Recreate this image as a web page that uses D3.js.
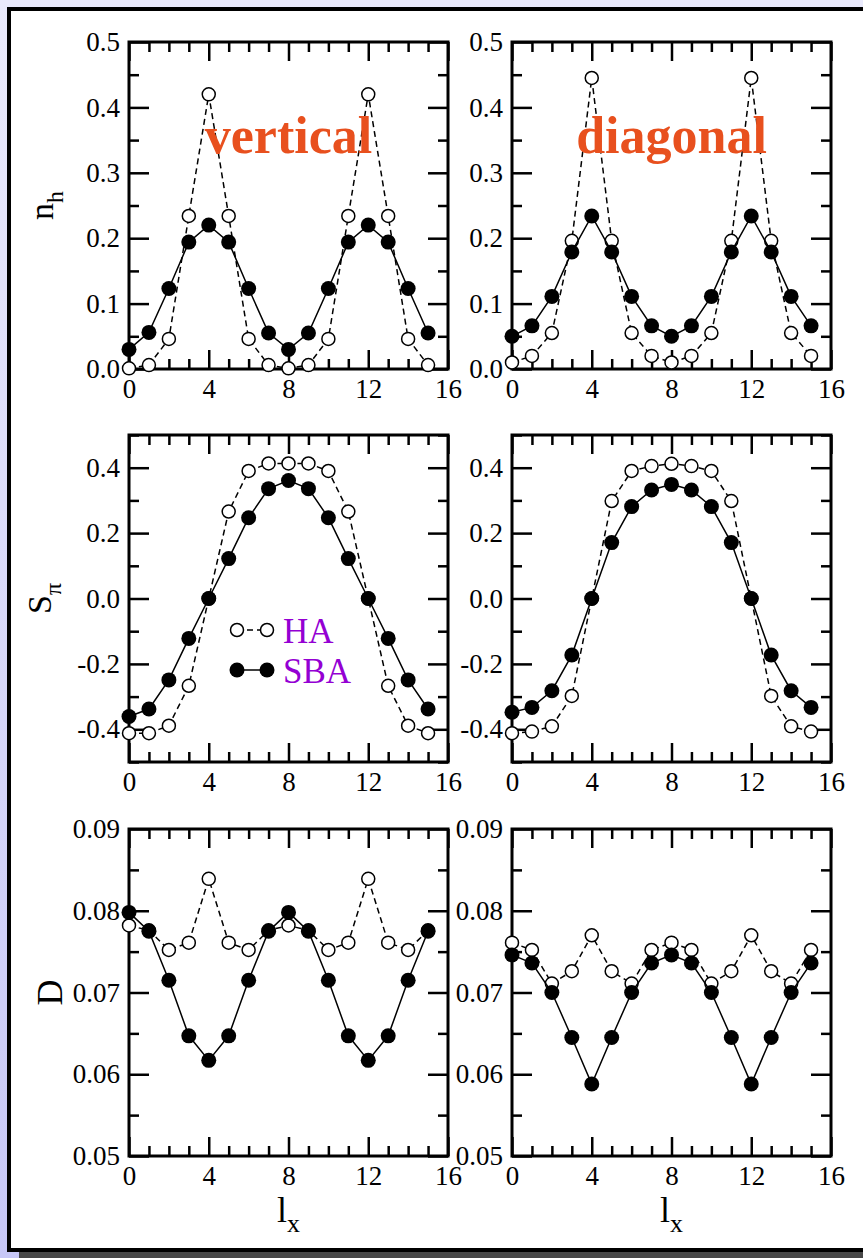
<!DOCTYPE html>
<html>
<head>
<meta charset="utf-8">
<script src="https://cdn.jsdelivr.net/npm/d3@7"></script>
<style>
  body { margin: 0; }
  svg text { font-family: "Liberation Serif", "Times New Roman", serif; }
  .axis path.domain { display: none; }
  .axis line { stroke: #000; stroke-width: 2.5; }
  .axis text { font-size: 27px; fill: #000; }
</style>
</head>
<body>
<svg id="fig" width="863" height="1258" font-family="Liberation Serif, Times New Roman, serif"></svg>
<script>
var serif = "Liberation Serif, Times New Roman, serif";

// lattice position along x
var lx = [0, 1, 2, 3, 4, 5, 6, 7, 8, 9, 10, 11, 12, 13, 14, 15];

// hole density n_h
var nhVertHA  = [0.001, 0.006, 0.046, 0.234, 0.420, 0.234, 0.046, 0.006, 0.001, 0.006, 0.046, 0.234, 0.420, 0.234, 0.046, 0.006];
var nhVertSBA = [0.030, 0.056, 0.123, 0.194, 0.220, 0.194, 0.123, 0.055, 0.030, 0.055, 0.123, 0.194, 0.220, 0.194, 0.123, 0.055];
var nhDiagHA  = [0.010, 0.020, 0.055, 0.196, 0.445, 0.196, 0.055, 0.020, 0.010, 0.020, 0.055, 0.196, 0.445, 0.196, 0.055, 0.020];
var nhDiagSBA = [0.050, 0.066, 0.111, 0.179, 0.234, 0.179, 0.111, 0.066, 0.050, 0.066, 0.111, 0.179, 0.234, 0.179, 0.111, 0.066];

// staggered magnetization S_pi
var sVertHA  = [-0.412, -0.412, -0.389, -0.267, 0.0, 0.266, 0.390, 0.413, 0.413, 0.413, 0.390, 0.266, 0.0, -0.267, -0.389, -0.412];
var sVertSBA = [-0.361, -0.338, -0.249, -0.122, 0.0, 0.122, 0.247, 0.336, 0.361, 0.336, 0.247, 0.122, 0.0, -0.122, -0.249, -0.338];
var sDiagHA  = [-0.412, -0.407, -0.391, -0.298, 0.0, 0.298, 0.390, 0.405, 0.412, 0.405, 0.390, 0.298, 0.0, -0.298, -0.391, -0.407];
var sDiagSBA = [-0.348, -0.333, -0.282, -0.173, 0.0, 0.171, 0.281, 0.332, 0.349, 0.332, 0.281, 0.171, 0.0, -0.173, -0.282, -0.333];

// double occupancy D
var dVertHA  = [0.0782, 0.0776, 0.0752, 0.0761, 0.0839, 0.0761, 0.0752, 0.0776, 0.0782, 0.0776, 0.0752, 0.0761, 0.0839, 0.0761, 0.0752, 0.0776];
var dVertSBA = [0.0798, 0.0775, 0.0715, 0.0647, 0.0617, 0.0647, 0.0715, 0.0775, 0.0798, 0.0775, 0.0715, 0.0647, 0.0617, 0.0647, 0.0715, 0.0775];
var dDiagHA  = [0.0761, 0.0752, 0.0711, 0.0726, 0.0770, 0.0726, 0.0711, 0.0752, 0.0761, 0.0752, 0.0711, 0.0726, 0.0770, 0.0726, 0.0711, 0.0752];
var dDiagSBA = [0.0746, 0.0736, 0.0700, 0.0645, 0.0588, 0.0645, 0.0700, 0.0736, 0.0746, 0.0736, 0.0700, 0.0645, 0.0588, 0.0645, 0.0700, 0.0736];

// ticks
var xMajor = [0, 4, 8, 12, 16];
var xMinor = [1, 2, 3, 5, 6, 7, 9, 10, 11, 13, 14, 15];
var nhMajor = [0, 0.1, 0.2, 0.3, 0.4, 0.5];
var nhMinor = [0.05, 0.15, 0.25, 0.35, 0.45];
var sMajor = [-0.4, -0.2, 0, 0.2, 0.4];
var sMinor = [-0.5, -0.3, -0.1, 0.1, 0.3, 0.5];
var dMajor = [0.05, 0.06, 0.07, 0.08, 0.09];
var dMinor = [0.055, 0.065, 0.075, 0.085];

var width = 863;
var height = 1258;
var pw = 319;
var ph = 327;
var cols = [129, 512];
var rows = [42, 435, 829];

var svg = d3.select("#fig");

// page background and frame
var defs = svg.append("defs");
var grad = defs.append("linearGradient")
  .attr("id", "bg")
  .attr("x1", 0).attr("y1", 0)
  .attr("x2", 0).attr("y2", 1);
grad.append("stop").attr("offset", "0%").attr("stop-color", "#eaeafc");
grad.append("stop").attr("offset", "100%").attr("stop-color", "#c7c7f7");

svg.append("rect")
  .attr("width", width)
  .attr("height", height)
  .attr("fill", "url(#bg)");

svg.append("rect")
  .attr("x", 19)
  .attr("y", 1250)
  .attr("width", width)
  .attr("height", 8)
  .attr("fill", "#474747");

svg.append("rect")
  .attr("x", 9)
  .attr("y", 9)
  .attr("width", width + 20)
  .attr("height", 1241)
  .attr("fill", "#fff")
  .attr("stroke", "#000")
  .attr("stroke-width", 4);

function styleAxis(sel) {
  sel.attr("font-family", serif).attr("font-size", 27);
}

function panel(left, top, yDomain, yMajor, yMinor, fmt, ha, sba) {
  var x = d3.scaleLinear().domain([0, 16]).range([0, pw]);
  var y = d3.scaleLinear().domain(yDomain).range([ph, 0]);

  var g = svg.append("g")
    .attr("transform", "translate(" + left + "," + top + ")");

  // bottom axis with labels
  g.append("g")
    .attr("class", "axis")
    .attr("transform", "translate(0," + ph + ")")
    .call(d3.axisBottom(x).tickValues(xMajor).tickSizeInner(-19).tickSizeOuter(0)
      .tickPadding(10).tickFormat(d3.format("d")))
    .call(styleAxis);
  g.append("g")
    .attr("class", "axis")
    .attr("transform", "translate(0," + ph + ")")
    .call(d3.axisBottom(x).tickValues(xMinor).tickSize(-10).tickFormat(""));

  // top axis, ticks only
  g.append("g")
    .attr("class", "axis")
    .call(d3.axisTop(x).tickValues(xMajor).tickSize(-19).tickFormat(""));
  g.append("g")
    .attr("class", "axis")
    .call(d3.axisTop(x).tickValues(xMinor).tickSize(-10).tickFormat(""));

  // left axis with labels
  g.append("g")
    .attr("class", "axis")
    .call(d3.axisLeft(y).tickValues(yMajor).tickSizeInner(-20).tickSizeOuter(0)
      .tickPadding(9).tickFormat(function(d) { return d3.format(fmt)(d).replace("−", "-"); }))
    .call(styleAxis);
  g.append("g")
    .attr("class", "axis")
    .call(d3.axisLeft(y).tickValues(yMinor).tickSize(-10).tickFormat(""));

  // right axis, ticks only
  g.append("g")
    .attr("class", "axis")
    .attr("transform", "translate(" + pw + ",0)")
    .call(d3.axisRight(y).tickValues(yMajor).tickSize(-20).tickFormat(""));
  g.append("g")
    .attr("class", "axis")
    .attr("transform", "translate(" + pw + ",0)")
    .call(d3.axisRight(y).tickValues(yMinor).tickSize(-10).tickFormat(""));

  g.append("rect")
    .attr("width", pw)
    .attr("height", ph)
    .attr("fill", "none")
    .attr("stroke", "#000")
    .attr("stroke-width", 3);

  var line = d3.line()
    .x(function(d) { return x(d.x); })
    .y(function(d) { return y(d.y); });

  var haData = lx.map(function(v, i) { return { x: v, y: ha[i] }; });
  var sbaData = lx.map(function(v, i) { return { x: v, y: sba[i] }; });

  // HA: dashed line, open circles
  g.append("path")
    .datum(haData)
    .attr("d", line)
    .attr("fill", "none")
    .attr("stroke", "#000")
    .attr("stroke-width", 1.5)
    .attr("stroke-dasharray", "6,4");

  g.selectAll(".ha")
    .data(haData)
    .enter().append("circle")
    .attr("class", "ha")
    .attr("cx", function(d) { return x(d.x); })
    .attr("cy", function(d) { return y(d.y); })
    .attr("r", 6.5)
    .attr("fill", "#fff")
    .attr("stroke", "#000")
    .attr("stroke-width", 1.5);

  // SBA: solid line, filled circles
  g.append("path")
    .datum(sbaData)
    .attr("d", line)
    .attr("fill", "none")
    .attr("stroke", "#000")
    .attr("stroke-width", 1.5);

  g.selectAll(".sba")
    .data(sbaData)
    .enter().append("circle")
    .attr("class", "sba")
    .attr("cx", function(d) { return x(d.x); })
    .attr("cy", function(d) { return y(d.y); })
    .attr("r", 7.5)
    .attr("fill", "#000");

  return g;
}

var g1 = panel(cols[0], rows[0], [0, 0.5], nhMajor, nhMinor, ".1f", nhVertHA, nhVertSBA);
var g2 = panel(cols[1], rows[0], [0, 0.5], nhMajor, nhMinor, ".1f", nhDiagHA, nhDiagSBA);
var g3 = panel(cols[0], rows[1], [-0.5, 0.5], sMajor, sMinor, ".1f", sVertHA, sVertSBA);
var g4 = panel(cols[1], rows[1], [-0.5, 0.5], sMajor, sMinor, ".1f", sDiagHA, sDiagSBA);
var g5 = panel(cols[0], rows[2], [0.05, 0.09], dMajor, dMinor, ".2f", dVertHA, dVertSBA);
var g6 = panel(cols[1], rows[2], [0.05, 0.09], dMajor, dMinor, ".2f", dDiagHA, dDiagSBA);

// panel titles
[[g1, "vertical"], [g2, "diagonal"]].forEach(function(p) {
  p[0].append("text")
    .attr("x", pw / 2)
    .attr("y", 111)
    .attr("text-anchor", "middle")
    .attr("font-family", serif)
    .attr("font-size", 52)
    .attr("font-weight", "bold")
    .attr("fill", "#e8501e")
    .text(p[1]);
});

// legend
var legend = g3.append("g");
[["HA", 195, "#fff", "6,4"], ["SBA", 235, "#000", null]].forEach(function(l) {
  legend.append("line")
    .attr("x1", 108).attr("x2", 138)
    .attr("y1", l[1]).attr("y2", l[1])
    .attr("stroke", "#000")
    .attr("stroke-width", 1.5)
    .attr("stroke-dasharray", l[3]);
  [108, 138].forEach(function(cx) {
    legend.append("circle")
      .attr("cx", cx)
      .attr("cy", l[1])
      .attr("r", l[0] == "HA" ? 6.5 : 7.5)
      .attr("fill", l[2])
      .attr("stroke", "#000")
      .attr("stroke-width", l[0] == "HA" ? 1.5 : 0);
  });
  legend.append("text")
    .attr("x", 154)
    .attr("y", l[1] + 13)
    .attr("font-family", serif)
    .attr("font-size", 35)
    .attr("fill", "#9400d3")
    .text(l[0]);
});

// y axis titles
function yTitle(g, main, sub, xPos, size) {
  var t = g.append("text")
    .attr("transform", "translate(" + xPos + "," + (ph / 2) + ") rotate(-90)")
    .attr("text-anchor", "middle")
    .attr("font-family", serif)
    .attr("font-size", size);
  t.append("tspan").text(main);
  if (sub) {
    t.append("tspan")
      .attr("dy", size * 0.3)
      .attr("font-size", size * 0.7)
      .text(sub);
  }
}

yTitle(g1, "n", "h", 53 - cols[0], 34);
yTitle(g3, "S", "π", 51 - cols[0], 34);
yTitle(g5, "D", null, 62 - cols[0], 36);

// x axis titles
[g5, g6].forEach(function(g) {
  var t = g.append("text")
    .attr("x", pw / 2)
    .attr("y", 393)
    .attr("text-anchor", "middle")
    .attr("font-family", serif)
    .attr("font-size", 36);
  t.append("tspan").text("l");
  t.append("tspan")
    .attr("dy", 10)
    .attr("font-size", 26)
    .text("x");
});
</script>
</body>
</html>
